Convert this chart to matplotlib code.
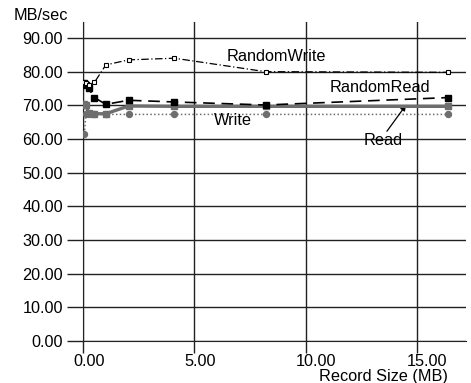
import matplotlib
matplotlib.use("Agg")
import matplotlib.pyplot as plt
from matplotlib.transforms import ScaledTranslation

plt.rcParams['font.family'] = ['Liberation Sans', 'DejaVu Sans']

record_mb = [0.064, 0.128, 0.256, 0.512, 1.024, 2.048, 4.096, 8.192, 16.384]
random_write = [77.0, 76.5, 76.0, 76.8, 82.0, 83.5, 84.0, 80.0, 79.8]
random_read = [76.5, 76.0, 75.0, 72.3, 70.3, 71.5, 71.0, 70.1, 72.3]
read = [70.3, 70.0, 67.6, 67.5, 67.5, 69.8, 69.7, 69.7, 69.7]
write = [61.5, 67.3, 67.3, 67.3, 67.3, 67.3, 67.3, 67.3, 67.3]

yticks = [0, 10, 20, 30, 40, 50, 60, 70, 80, 90]
xticks = [0, 5, 10, 15]

W, H, DPI = 471, 383, 100
fig = plt.figure(figsize=(W / DPI, H / DPI), dpi=DPI)
ax = fig.add_axes([83 / W, (H - 341) / H, (466 - 83) / W, (341 - 22) / H])

FS = 11.7
gray = '#6e6e6e'

ax.plot(record_mb, write, color=gray, lw=1.1, ls=(0, (1, 1.5)),
        marker='o', ms=4.3, mfc=gray, mec=gray, zorder=3)
ax.plot(record_mb, read, color=gray, lw=2.4, ls='-',
        marker='s', ms=3.8, mfc=gray, mec=gray, zorder=4)
ax.plot(record_mb, random_read, color='black', lw=1.2, ls=(0, (7, 4)),
        marker='s', ms=3.8, mfc='black', mec='black', zorder=5)
ax.plot(record_mb, random_write, color='black', lw=0.9, ls=(0, (6, 2, 1, 2)),
        marker='s', ms=3.3, mfc='white', mec='black', mew=0.8, zorder=6)

ax.set_xlim(0, 17.19)
ax.set_ylim(0, 94.75)
ax.set_xticks(xticks)
ax.set_yticks(yticks)
ax.set_xticklabels([f"{v:.2f}" for v in xticks], fontsize=FS)
ax.set_yticklabels([f"{v:.2f}" for v in yticks], fontsize=FS)
ax.grid(True, color='#222222', lw=1.0)
ax.set_axisbelow(True)
for s in ['top', 'right']:
    ax.spines[s].set_visible(False)
ax.spines['left'].set_color('#222222')
ax.spines['bottom'].set_color('#222222')
ax.tick_params(axis='y', direction='out', length=11.5, width=1.0, pad=3, color='#222222')
ax.tick_params(axis='x', direction='out', length=8.6, width=1.0, pad=0.5, color='#222222')

off = ScaledTranslation(-10 / DPI, 0, fig.dpi_scale_trans)
for lab in ax.get_xticklabels():
    lab.set_ha('left')
    lab.set_transform(lab.get_transform() + off)

ax.text(8.68, 84.65, 'RandomWrite', fontsize=FS, ha='center', va='center')
ax.text(13.33, 75.15, 'RandomRead', fontsize=FS, ha='center', va='center')
ax.text(6.71, 65.35, 'Write', fontsize=FS, ha='center', va='center')
ax.text(13.49, 59.6, 'Read', fontsize=FS, ha='center', va='center')
ax.annotate('', xy=(14.5, 70.1), xytext=(13.64, 62.3),
            arrowprops=dict(arrowstyle='-|>', color='black', lw=0.9,
                            mutation_scale=8, shrinkA=0, shrinkB=0))

fig.text(14 / W, 1 - 15 / H, 'MB/sec', fontsize=FS, ha='left', va='center')
fig.text(448 / W, 1 - 377 / H, 'Record Size (MB)', fontsize=FS, ha='right', va='center')

fig.savefig('out.png', dpi=DPI)
